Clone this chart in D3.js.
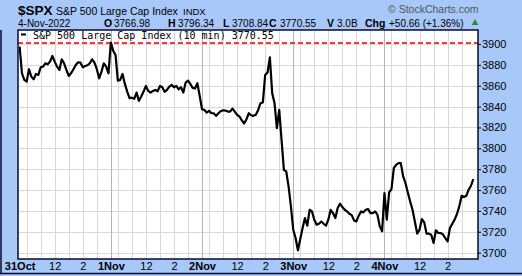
<!DOCTYPE html>
<html><head><meta charset="utf-8">
<script src="https://cdn.jsdelivr.net/npm/d3@7"></script>
<style>
html,body{margin:0;padding:0;background:#a7c8f8;}
svg{display:block;}
text{font-family:"Liberation Sans",Arial,sans-serif;}
</style></head>
<body>
<script>
// ---- data ----
const days = ["31Oct", "1Nov", "2Nov", "3Nov", "4Nov"];
const hourTickLabels = ["12", "2"];
const oct31 = [3897.4,3871.9,3865.5,3863.9,3875.8,3868.7,3866.2,3871.3,3870.3,3877.7,3878.3,3881.5,3880.5,3883.1,3888.5,3883.1,3878.3,3875.1,3885.3,3881.5,3875.1,3869.4,3871.9,3875.8,3879.9,3882.5,3882.1,3877.7,3878.9,3879.6,3881.5,3885.3,3882.1,3875.8,3867.1,3873.5,3881.5,3878.3,3871.9];
const nov1 = [3901.3,3893.6,3889.5,3864.9,3865.5,3871.3,3861.7,3854.4,3848.0,3848.6,3847.4,3853.4,3845.5,3849.6,3854.4,3859.8,3855.0,3853.4,3855.0,3856.0,3854.7,3859.8,3858.5,3854.1,3856.0,3859.2,3860.8,3858.5,3859.8,3856.6,3858.5,3853.4,3863.0,3864.9,3861.7,3857.9,3857.3,3862.4,3850.2];
const nov2 = [3837.5,3836.8,3834.3,3835.9,3833.6,3833.6,3831.1,3833.6,3835.6,3836.5,3836.2,3835.2,3835.2,3838.1,3835.2,3832.1,3830.5,3826.7,3823.8,3827.9,3833.6,3831.7,3831.1,3832.1,3836.8,3843.2,3843.9,3870.3,3872.6,3887.2,3852.8,3843.2,3819.3,3836.8,3808.1,3779.4,3777.8,3763.5,3744.3];
const nov3 = [3722.0,3714.0,3702.2,3713.1,3723.6,3733.2,3725.8,3741.1,3739.5,3731.6,3726.8,3727.7,3729.9,3727.7,3725.8,3731.6,3741.1,3737.9,3733.2,3742.7,3746.9,3743.7,3741.1,3739.5,3737.3,3736.0,3730.9,3729.9,3735.4,3739.5,3738.6,3741.1,3741.8,3737.9,3737.9,3739.5,3736.4,3725.2,3720.4];
const nov4 = [3757.1,3731.6,3757.7,3760.9,3781.0,3784.2,3785.8,3785.8,3773.0,3766.6,3757.7,3749.1,3741.1,3729.9,3718.2,3722.0,3732.2,3729.0,3718.2,3718.2,3717.2,3709.2,3721.4,3718.8,3718.8,3717.5,3714.0,3710.8,3723.6,3727.7,3731.6,3737.0,3744.3,3754.5,3753.3,3754.5,3760.3,3764.1,3770.55];
const yTicks = [3700,3720,3740,3760,3780,3800,3820,3840,3860,3880,3900];
const refLevel = 3901;
const barsPerDay = 39;
const quoteLabels = ["O", "H", "L", "C", "V", "Chg"];
const quoteValues = ["3766.98", "3796.34", "3708.84", "3770.55", "3.0B", "+50.66 (+1.36%)"];

const series = [].concat(oct31, nov1, nov2, nov3, nov4);

// ---- layout ----
const W = 522, H = 276;
const L = 18, R = 478, T = 30, B = 259;

const svg = d3.select("body").append("svg").attr("width", W).attr("height", H);
svg.append("rect").attr("width", W).attr("height", H).attr("fill", "#a7c8f8");

const x = d3.scaleLinear().domain([-0.7, 196]).range([L, R]);
const y = d3.scaleLinear().domain([3693.9, 3913.4]).range([B, T]);

svg.append("rect").attr("x", L).attr("y", T).attr("width", R - L).attr("height", B - T).attr("fill", "#fff");

// grid
const hourIdx = [], dayIdx = [];
days.forEach((d, di) => {
  dayIdx.push(di * barsPerDay);
  for (let h = 0; h < 6; h++) hourIdx.push(di * barsPerDay + 3 + 6 * h);
});
const g = svg.append("g");
g.selectAll(".hg").data(yTicks).join("line")
  .attr("x1", L).attr("x2", R).attr("y1", d => Math.round(y(d)) + 0.5).attr("y2", d => Math.round(y(d)) + 0.5)
  .attr("stroke", "#d8d8d8").attr("stroke-width", 1);
g.selectAll(".vg").data(hourIdx).join("line")
  .attr("x1", d => Math.round(x(d)) + 0.5).attr("x2", d => Math.round(x(d)) + 0.5).attr("y1", T).attr("y2", B)
  .attr("stroke", "#d8d8d8").attr("stroke-width", 1);
g.selectAll(".dg").data(dayIdx.slice(1)).join("line")
  .attr("x1", d => Math.round(x(d)) + 0.5).attr("x2", d => Math.round(x(d)) + 0.5).attr("y1", T).attr("y2", B)
  .attr("stroke", "#b4b4b4").attr("stroke-width", 1);

// reference dashed line
svg.append("line").attr("x1", L).attr("x2", R).attr("y1", y(refLevel)).attr("y2", y(refLevel))
  .attr("stroke", "#ee3a3a").attr("stroke-width", 2).attr("stroke-dasharray", "5,3");

// price line
const line = d3.line().x((d, i) => x(i)).y(d => y(d));
svg.append("path").datum(series).attr("d", line)
  .attr("fill", "none").attr("stroke", "#000").attr("stroke-width", 2.2).attr("stroke-linejoin", "round");

// legend
const lg = svg.append("g");
lg.append("line").attr("x1", 21).attr("x2", 26).attr("y1", 34.5).attr("y2", 34.5).attr("stroke", "#000").attr("stroke-width", 2);
lg.append("text").attr("x", 33).attr("y", 38.5)
  .style("font-family", "'DejaVu Sans Mono', monospace").style("font-size", "10px").attr("fill", "#000")
  .text("S&P 500 Large Cap Index (10 min) " + series[series.length - 1].toFixed(2));

// plot frame
svg.append("rect").attr("x", L).attr("y", T).attr("width", R - L).attr("height", B - T)
  .attr("fill", "none").attr("stroke", "#0a0a30").attr("stroke-width", 1.5);

// y axis
const yAxis = d3.axisRight(y).tickValues(yTicks).tickSize(3).tickPadding(1).tickFormat(d3.format("d"));
const ya = svg.append("g").attr("transform", `translate(${R},0)`).call(yAxis);
ya.select(".domain").remove();
ya.selectAll("line").attr("stroke", "#000");
ya.selectAll("text").style("font-size", "11px").attr("fill", "#000").style("font-family", "'Liberation Sans',Arial,sans-serif");

// x axis
const xTickIdx = [], xTickLab = [], xTickBold = [];
days.forEach((d, di) => {
  xTickIdx.push(di * barsPerDay); xTickLab.push(d); xTickBold.push(true);
  xTickIdx.push(di * barsPerDay + 15); xTickLab.push(hourTickLabels[0]); xTickBold.push(false);
  xTickIdx.push(di * barsPerDay + 27); xTickLab.push(hourTickLabels[1]); xTickBold.push(false);
});
const xAxis = d3.axisBottom(x).tickValues(xTickIdx).tickSize(0).tickPadding(3)
  .tickFormat((d, i) => xTickLab[i]);
const xa = svg.append("g").attr("transform", `translate(0,${B})`).call(xAxis);
xa.select(".domain").remove();
xa.selectAll("text").style("font-size", "11px").attr("fill", "#000")
  .style("font-family", "'Liberation Sans',Arial,sans-serif")
  .style("font-weight", (d, i) => xTickBold[i] ? "bold" : "normal");

// outer frame lines
svg.append("line").attr("x1", 1).attr("x2", 1).attr("y1", T).attr("y2", 274).attr("stroke", "#0a0a30").attr("stroke-width", 1.5);
svg.append("line").attr("x1", 0).attr("x2", W).attr("y1", 273.5).attr("y2", 273.5).attr("stroke", "#0a0a30").attr("stroke-width", 1.5);

// header
svg.append("text").attr("x", 18).attr("y", 15).style("font-size", "13.5px").style("font-weight", "bold").text("$SPX");
svg.append("text").attr("x", 56).attr("y", 14.5).style("font-size", "10.5px").text("S&P 500 Large Cap Index");
svg.append("text").attr("x", 183).attr("y", 14.5).style("font-size", "9.5px").text("INDX");
svg.append("text").attr("x", 388).attr("y", 13).style("font-size", "10.5px").attr("fill", "#555").text("© StockCharts.com");
svg.append("text").attr("x", 18).attr("y", 26.5).style("font-size", "10px").text("4-Nov-2022");

const labelX = [104, 168, 223, 269, 327, 365];
const valueX = [114, 178, 232, 280, 337, 389];
quoteLabels.forEach((lab, i) => {
  svg.append("text").attr("x", labelX[i]).attr("y", 26.5).style("font-size", "10.5px").style("font-weight", "bold").text(lab);
  svg.append("text").attr("x", valueX[i]).attr("y", 26.5).style("font-size", "10px").text(quoteValues[i]);
});
svg.append("path").attr("d", d3.symbol(d3.symbolTriangle, 20)()).attr("transform", "translate(475,23)").attr("fill", "#2e8b3a");
</script>
</body></html>
